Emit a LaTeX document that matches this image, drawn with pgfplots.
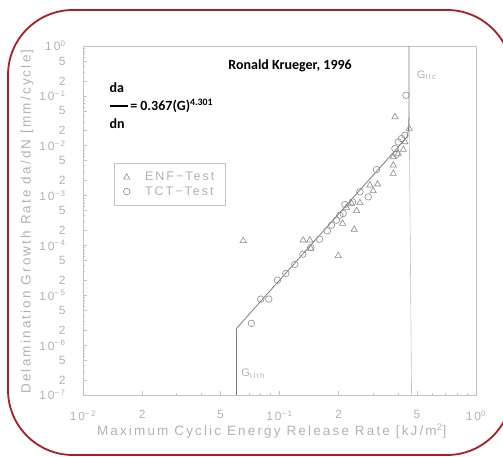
\documentclass[border=0pt]{standalone}
\usepackage{pgfplots}
\pgfplotsset{compat=1.18}
\usepackage{fontspec}
\setmainfont{Liberation Sans}
\newfontfamily\calfont{Carlito}
\newfontfamily\plotfont[LetterSpace=16]{Liberation Sans}
\definecolor{framegray}{RGB}{195,195,195}
\definecolor{textgray}{RGB}{178,178,178}
\definecolor{markgray}{RGB}{140,140,140}
\definecolor{linegray}{RGB}{125,125,125}
\definecolor{borderred}{RGB}{175,28,34}
\begin{document}
\begin{tikzpicture}
\begin{axis}[
  at={(83pt,62pt)}, anchor=south west,
  width=393pt, height=349pt, scale only axis,
  xmode=log, ymode=log,
  xmin=0.01, xmax=1, ymin=1e-7, ymax=1,
  axis line style={framegray, line width=0.8pt},
  tick style={framegray, line width=0.6pt},
  tick align=inside,
  xtick pos=bottom, ytick pos=left,
  major tick length=4pt, minor tick length=2.5pt,
  xtick={0.01,0.02,0.05,0.1,0.2,0.5,1},
  xticklabels={10\textsuperscript{−2},2,5,10\textsuperscript{−1},2,5,10\textsuperscript{0}},
  minor xtick={0.03,0.04,0.06,0.07,0.08,0.09,0.3,0.4,0.6,0.7,0.8,0.9},
  ytick={1e-7,2e-7,5e-7,1e-6,2e-6,5e-6,1e-5,2e-5,5e-5,1e-4,2e-4,5e-4,1e-3,2e-3,5e-3,1e-2,2e-2,5e-2,1e-1,2e-1,5e-1,1},
  yticklabels={10\textsuperscript{−7},2,5,10\textsuperscript{−6},2,5,10\textsuperscript{−5},2,5,10\textsuperscript{−4},2,5,10\textsuperscript{−3},2,5,10\textsuperscript{−2},2,5,10\textsuperscript{−1},2,5,10\textsuperscript{0}},
  minor ytick={3e-7,4e-7,6e-7,7e-7,8e-7,9e-7,3e-6,4e-6,6e-6,7e-6,8e-6,9e-6,3e-5,4e-5,6e-5,7e-5,8e-5,9e-5,3e-4,4e-4,6e-4,7e-4,8e-4,9e-4,3e-3,4e-3,6e-3,7e-3,8e-3,9e-3,3e-2,4e-2,6e-2,7e-2,8e-2,9e-2,3e-1,4e-1,6e-1,7e-1,8e-1,9e-1},
  ticklabel style={font=\plotfont\fontsize{12}{13}\selectfont, text=textgray},
  yticklabel style={xshift=-14pt},
  xticklabel style={yshift=-12pt},
  xlabel={Maximum Cyclic Energy Release Rate [kJ/m\textsuperscript{2}]},
  ylabel={Delamination Growth Rate da/dN [mm/cycle]},
  xlabel style={at={(axis description cs:0.480,-0.103)}, anchor=center, font=\plotfont\fontsize{13.5}{14}\selectfont, text=textgray},
  ylabel style={at={(axis description cs:-0.142,0.497)}, anchor=center, rotate=0, font=\plotfont\fontsize{13.5}{14}\selectfont, text=textgray},
  legend style={at={(axis description cs:0.079,0.665)}, anchor=north west,
    draw=framegray, line width=0.8pt, fill=none,
    font=\plotfont\fontsize{12.5}{13}\selectfont, text=textgray,
    inner xsep=9pt, inner ysep=7pt, row sep=0pt,
    /tikz/every odd column/.append style={column sep=13pt}},
  legend cell align=left,
]
\addplot[only marks, mark=triangle, mark size=3.6pt, mark options={markgray, line width=0.6pt}] coordinates {
(0.0653,1.237e-4) (0.1320,1.275e-4) (0.1427,1.275e-4) (0.1444,8.68e-5)
(0.1990,6.19e-5) (0.2094,2.75e-4) (0.2400,2.09e-4) (0.2467,4.94e-4)
(0.2326,6.92e-4) (0.2566,7.14e-4) (0.2195,5.75e-4) (0.2885,1.613e-3)
(0.3156,1.69e-3) (0.2999,1.242e-3) (0.3867,0.0378) (0.3793,4.06e-3)
(0.3793,2.76e-3) (0.3793,5.96e-3) (0.4022,6.96e-3) (0.4265,8.37e-3)
(0.4575,0.0220) (0.4349,0.0119)
};
\addlegendentry{ENF−Test}
\addplot[only marks, mark=o, mark size=3.3pt, mark options={markgray, line width=0.6pt}] coordinates {
(0.0720,2.73e-6) (0.0803,8.38e-6) (0.0882,8.38e-6) (0.0977,2.01e-5)
(0.1077,2.74e-5) (0.1197,4.15e-5) (0.1315,6.68e-5) (0.1444,9.09e-5)
(0.1598,1.335e-4) (0.1749,1.96e-4) (0.1840,2.55e-4) (0.1951,3.21e-4)
(0.2029,4.04e-4) (0.2110,4.37e-4) (0.2152,6.61e-4) (0.2353,7.47e-4)
(0.2566,1.186e-3) (0.2829,9.42e-4) (0.3119,3.32e-3) (0.3867,8.76e-3)
(0.3940,6.75e-3) (0.4022,1.19e-2) (0.4182,1.39e-2) (0.4349,1.62e-2)
(0.4400,0.1027)
};
\addlegendentry{TCT−Test}
\addplot[framegray, line width=0.6pt, forget plot] coordinates {(0.470,1e-7) (0.457,0.04)};
\addplot[linegray, line width=0.8pt, forget plot] coordinates {
(0.0604,1e-7) (0.0604,2.16e-6) (0.447,0.015) (0.454,0.022) (0.456,0.04) (0.456,1)};
\node[font=\plotfont\fontsize{11}{12}\selectfont, text=textgray, anchor=center] at (axis cs:0.561,0.258) {G\textsubscript{IIc}};
\node[font=\plotfont\fontsize{11}{12}\selectfont, text=textgray, anchor=center] at (axis cs:0.0734,2.7e-7) {G\textsubscript{IIth}};
\node[font=\calfont\bfseries\fontsize{14}{16}\selectfont, anchor=center] at (axis description cs:0.527,0.943) {Ronald Krueger, 1996};
\node[font=\calfont\bfseries\fontsize{14}{18}\selectfont, anchor=west, align=left] at (axis description cs:0.059,0.828) {da\\\rule[0.28em]{1.3em}{0.12em}\,= 0.367(G)\textsuperscript{4.301}\\dn};
\end{axis}
\draw[borderred, line width=1.8pt, rounded corners=65pt] (8pt,2pt) rectangle (512pt,447pt);
\pgfresetboundingbox
\path[use as bounding box] (0,0) rectangle (503pt,457pt);
\end{tikzpicture}
\end{document}
